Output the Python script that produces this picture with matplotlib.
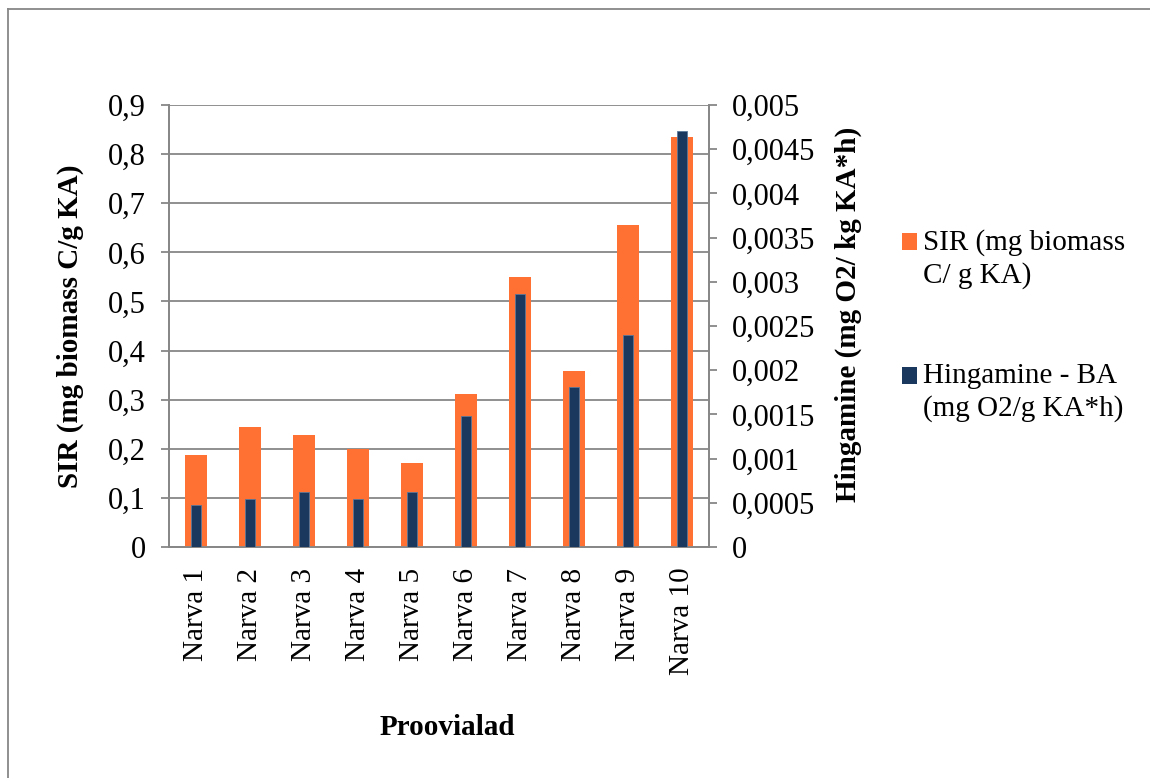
import matplotlib
matplotlib.use("Agg")
import matplotlib.pyplot as plt
from matplotlib.ticker import MultipleLocator, FuncFormatter
from matplotlib.patches import Patch, Rectangle
from matplotlib.lines import Line2D
from matplotlib.legend_handler import HandlerPatch

plt.rcParams['font.family'] = ['Liberation Serif', 'DejaVu Serif']

# Sampling sites and measured values
sites = ['Narva 1', 'Narva 2', 'Narva 3', 'Narva 4', 'Narva 5',
         'Narva 6', 'Narva 7', 'Narva 8', 'Narva 9', 'Narva 10']
sir = [0.187, 0.245, 0.228, 0.200, 0.172, 0.312, 0.549, 0.358, 0.655, 0.834]
respiration = [0.00048, 0.00054, 0.000625, 0.00054, 0.00062,
               0.00148, 0.00286, 0.00181, 0.00240, 0.00471]

sir_label = 'SIR (mg biomass\nC/ g KA)'
resp_label = 'Hingamine - BA\n(mg O2/g KA*h)'

ORANGE = '#FF7133'
NAVY = '#1A375E'
GRID = '#878787'


class TopLineSquare(HandlerPatch):
    """Legend key drawn beside the first line of a two-line label."""

    def __init__(self, shift, **kw):
        super().__init__(**kw)
        self.shift = shift

    def create_artists(self, legend, orig_handle, xdescent, ydescent,
                       width, height, fontsize, trans):
        p = Rectangle((-xdescent, -ydescent + self.shift), width, height,
                      facecolor=orig_handle.get_facecolor(), edgecolor='none',
                      transform=trans)
        return [p]


fig = plt.figure(figsize=(11.5, 7.78), dpi=100)
ax = fig.add_axes([169 / 1150, 1 - 547 / 778, 540 / 1150, 442 / 778])
ax2 = ax.twinx()

x = range(len(sites))
ax.bar(x, sir, width=0.395, color=ORANGE, zorder=3)
ax2.bar(x, respiration, width=0.17, color=NAVY, edgecolor='#5a7899',
        linewidth=0.6, zorder=3)

ax.set_xlim(-0.5, len(sites) - 0.5)
ax.set_ylim(0, 0.9)
ax2.set_ylim(0, 0.005)
ax.yaxis.set_major_locator(MultipleLocator(0.1))
ax2.yaxis.set_major_locator(MultipleLocator(0.0005))

comma = FuncFormatter(lambda v, _: f"{v:g}".replace('.', ','))
ax.yaxis.set_major_formatter(comma)
ax2.yaxis.set_major_formatter(comma)

ax.set_axisbelow(True)
ax.grid(axis='y', color=GRID, linewidth=1.3, zorder=0)
ax.grid(axis='x', visible=False)

for a in (ax, ax2):
    a.spines['top'].set_visible(False)
    for side in ('left', 'right', 'bottom'):
        a.spines[side].set_color(GRID)
        a.spines[side].set_linewidth(1.3)

ax.set_xticks(list(x))
ax.set_xticklabels(sites, rotation=90, fontsize=21)
ax.tick_params(axis='x', length=0, pad=15)
ax.tick_params(axis='y', direction='out', length=5.8, width=1.3, color=GRID,
               labelsize=22, pad=11)
ax2.tick_params(axis='y', direction='out', length=5.8, width=1.3, color=GRID,
                labelsize=22, pad=11)

ax.set_ylabel('SIR (mg biomass C/g KA)', fontsize=21, fontweight='bold',
              labelpad=17)
ax2.set_ylabel('Hingamine (mg O2/ kg KA*h)', fontsize=21, fontweight='bold',
               labelpad=14)
ax2.yaxis.label.set_y(0.526)
ax.set_xlabel('Proovialad', fontsize=21, fontweight='bold', labelpad=28)
ax.xaxis.label.set_x(0.515)

handles = [Patch(facecolor=ORANGE, edgecolor='none'),
           Patch(facecolor=NAVY, edgecolor='none')]
leg = fig.legend(handles, [sir_label, resp_label], loc='upper left',
                 bbox_to_anchor=(902 / 1150, 1 - 229 / 778), frameon=False,
                 fontsize=21, handlelength=0.51, handleheight=0.51,
                 handletextpad=0.22, labelspacing=2.55, borderpad=0,
                 borderaxespad=0,
                 handler_map={Patch: TopLineSquare(shift=12)})
for t in leg.get_texts():
    t.set_linespacing(1.28)

# outer chart frame
fig.add_artist(Line2D([7.5 / 1150, 7.5 / 1150], [0, 1 - 8.5 / 778],
                      transform=fig.transFigure, color=GRID, linewidth=1.3))
fig.add_artist(Line2D([7.5 / 1150, 1], [1 - 8.5 / 778, 1 - 8.5 / 778],
                      transform=fig.transFigure, color=GRID, linewidth=1.3))

fig.savefig('out.png', dpi=100)
